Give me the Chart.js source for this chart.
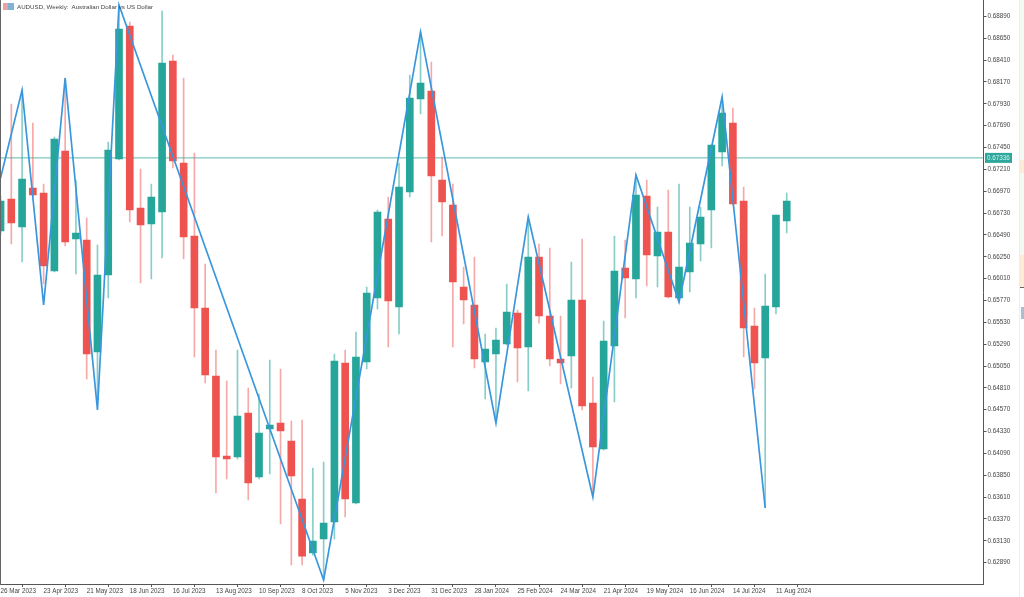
<!DOCTYPE html>
<html>
<head>
<meta charset="utf-8">
<title>AUDUSD Weekly</title>
<script src="https://cdn.jsdelivr.net/npm/chart.js@4/dist/chart.umd.min.js"></script>
<style>
  html, body { margin: 0; padding: 0; background: #fff; overflow: hidden; }
  #wrap { position: relative; width: 1024px; height: 597px; }
  #chart { position: absolute; left: 0; top: 0; }
  #title { position: absolute; left: 17px; top: 1.5px; font: 6.2px/9px "Liberation Sans", sans-serif; color: #444; white-space: pre; }
  #icon { position: absolute; left: 3px; top: 3px; width: 11px; height: 7px; background: linear-gradient(90deg, #e9a3a0 0 50%, #7fb2d6 50% 100%); }
  .edge { position: absolute; }
</style>
</head>
<body>
<div id="wrap">
  <canvas id="chart" width="1024" height="597"></canvas>
  <div id="icon"></div>
  <div id="title">AUDUSD, Weekly:  Australian Dollar vs US Dollar</div>
  <div class="edge" style="left:0;top:0;width:1px;height:585px;background:#666"></div>
  <div class="edge" style="left:1019px;top:0;width:1px;height:597px;background:#eee"></div>
  <div class="edge" style="left:1020px;top:0;width:4px;height:160px;background:#f3faf3"></div>
  <div class="edge" style="left:1020px;top:160px;width:4px;height:13px;background:#fcebd6"></div>
  <div class="edge" style="left:1020px;top:173px;width:4px;height:82px;background:#f3faf3"></div>
  <div class="edge" style="left:1020px;top:255px;width:4px;height:32px;background:#fcebd6"></div>
  <div class="edge" style="left:1020px;top:287px;width:4px;height:1px;background:#666"></div>
  <div class="edge" style="left:1021px;top:307px;width:3px;height:12px;background:#a9bfd4"></div>
</div>
<script>
// weekly candles, first one is the week of 26 Mar 2023
const opens = [
  0.66533, 0.66884, 0.66577, 0.67005, 0.66950, 0.66094, 0.67412, 0.66445, 0.66434, 0.65204,
  0.66050, 0.67324, 0.68784, 0.66786, 0.66610, 0.66742, 0.68400, 0.67280, 0.66478, 0.65687,
  0.64940, 0.64062, 0.64051, 0.64534, 0.63831, 0.64358, 0.64424, 0.64227, 0.63590, 0.62997,
  0.63150, 0.63337, 0.65083, 0.63546, 0.65094, 0.65797, 0.66665, 0.65698, 0.66961, 0.67983,
  0.68071, 0.67093, 0.66818, 0.65918, 0.65720, 0.65094, 0.65182, 0.65292, 0.65632, 0.65259,
  0.66247, 0.65599, 0.65127, 0.65160, 0.65775, 0.64644, 0.64139, 0.65270, 0.66127, 0.66006,
  0.66917, 0.66258, 0.66522, 0.65797, 0.66083, 0.66390, 0.66764, 0.67401, 0.67719, 0.66862,
  0.65490, 0.65138, 0.65698, 0.66643
];
const closes = [
  0.66862, 0.66621, 0.67104, 0.66928, 0.66149, 0.67543, 0.66412, 0.66511, 0.65182, 0.66050,
  0.67423, 0.68751, 0.66764, 0.66599, 0.66906, 0.68378, 0.67302, 0.66467, 0.65687, 0.64951,
  0.64051, 0.64029, 0.64501, 0.63765, 0.64314, 0.64402, 0.64336, 0.63842, 0.62963, 0.63128,
  0.63326, 0.65105, 0.63590, 0.65149, 0.65852, 0.66742, 0.65764, 0.67016, 0.67994, 0.68158,
  0.67137, 0.66851, 0.65973, 0.65775, 0.65127, 0.65237, 0.65336, 0.65643, 0.65248, 0.66247,
  0.65599, 0.65127, 0.65083, 0.65775, 0.64611, 0.64161, 0.65325, 0.66094, 0.66017, 0.66928,
  0.66269, 0.66522, 0.65808, 0.66138, 0.66401, 0.66687, 0.67477, 0.67829, 0.66829, 0.65468,
  0.65083, 0.65709, 0.66709, 0.66862
];
const highs = [
  0.66917, 0.67928, 0.68082, 0.67719, 0.67049, 0.67565, 0.68213, 0.67093, 0.66676, 0.66379,
  0.67510, 0.69015, 0.68828, 0.67214, 0.67049, 0.68949, 0.68466, 0.68213, 0.67390, 0.66170,
  0.65226, 0.64886, 0.65226, 0.64809, 0.64743, 0.65116, 0.65017, 0.64446, 0.64457, 0.63930,
  0.63996, 0.65182, 0.65226, 0.65424, 0.65918, 0.66764, 0.66906, 0.67280, 0.68246, 0.68719,
  0.68389, 0.67346, 0.67049, 0.66138, 0.66247, 0.65402, 0.65468, 0.65951, 0.65665, 0.66687,
  0.66390, 0.66346, 0.65599, 0.66192, 0.66445, 0.64929, 0.65544, 0.66478, 0.66434, 0.67148,
  0.67093, 0.66797, 0.66983, 0.67049, 0.66797, 0.66797, 0.67477, 0.68005, 0.67884, 0.67016,
  0.65687, 0.66061, 0.66709, 0.66950
];
const lows = [
  0.66489, 0.66390, 0.66192, 0.66906, 0.65951, 0.66083, 0.66368, 0.66061, 0.64907, 0.64677,
  0.65797, 0.67313, 0.66632, 0.65962, 0.66006, 0.66236, 0.67225, 0.66225, 0.65149, 0.64864,
  0.63655, 0.63809, 0.64029, 0.63579, 0.63809, 0.63864, 0.63315, 0.62865, 0.62865, 0.62974,
  0.62700, 0.63150, 0.63392, 0.63535, 0.65017, 0.65676, 0.65259, 0.65402, 0.66906, 0.67818,
  0.66412, 0.66478, 0.65259, 0.65512, 0.65028, 0.64688, 0.64457, 0.65281, 0.64875, 0.64776,
  0.65522, 0.65050, 0.64853, 0.64809, 0.64567, 0.63634, 0.64128, 0.64655, 0.65577, 0.65797,
  0.65929, 0.65918, 0.65797, 0.65742, 0.65863, 0.66203, 0.66346, 0.67247, 0.66818, 0.65149,
  0.64798, 0.63502, 0.65621, 0.66511
];

// zigzag indicator: turning points as week number / price
const zigzagWeeks = [0, 2, 4, 6, 9, 11, 30, 39, 46, 49, 55, 59, 63, 67, 71];
const zigzagPrices = [0.67115, 0.68082, 0.65720, 0.68213, 0.64567, 0.69015, 0.62700, 0.68719, 0.64424, 0.66687, 0.63612, 0.67148, 0.65753, 0.68005, 0.63491];

const currentPrice = 0.67336;

// one label every 4 weeks
const dateLabels = [
  '26 Mar 2023', '23 Apr 2023', '21 May 2023', '18 Jun 2023', '16 Jul 2023', '13 Aug 2023', '10 Sep 2023',
  '8 Oct 2023', '5 Nov 2023', '3 Dec 2023', '31 Dec 2023', '28 Jan 2024', '25 Feb 2024', '24 Mar 2024',
  '21 Apr 2024', '19 May 2024', '16 Jun 2024', '14 Jul 2024', '11 Aug 2024'
];
const priceTicks = [
  0.6889, 0.6865, 0.6841, 0.6817, 0.6793, 0.6769, 0.6745, 0.6721, 0.6697, 0.6673, 0.6649, 0.6625, 0.6601,
  0.6577, 0.6553, 0.6529, 0.6505, 0.6481, 0.6457, 0.6433, 0.6409, 0.6385, 0.6361, 0.6337, 0.6313, 0.6289
];

const UP = '#26a69a';
const DOWN = '#ef5350';
const UP_WICK = 'rgba(38,166,154,0.55)';
const DOWN_WICK = 'rgba(239,83,80,0.5)';
const AXIS = '#555';
const LABEL = '#444';
const TICK_FONT = { family: '"Liberation Sans", sans-serif', size: 6.3 };

const isUp = closes.map((c, i) => c >= opens[i]);

// price badge on the right axis
const priceBadge = {
  id: 'priceBadge',
  afterDraw(chart) {
    const { ctx, scales } = chart;
    const y = scales.y.getPixelForValue(currentPrice);
    ctx.save();
    ctx.fillStyle = '#2ea79c';
    ctx.fillRect(985, y - 5, 27, 10);
    ctx.fillStyle = '#d8f1ed';
    ctx.font = '6.3px "Liberation Sans", sans-serif';
    ctx.textBaseline = 'middle';
    ctx.fillText(currentPrice.toFixed(5), 987, y + 0.5);
    ctx.restore();
  },
};

new Chart(document.getElementById('chart'), {
  type: 'bar',
  plugins: [priceBadge],
  data: {
    datasets: [
      {
        type: 'line',
        data: [{ x: -0.05, y: currentPrice }, { x: 91.27, y: currentPrice }],
        borderColor: '#5fb8b0',
        borderWidth: 1,
        pointRadius: 0,
        order: 4,
      },
      {
        data: highs.map((h, i) => ({ x: i, y: [lows[i], h] })),
        backgroundColor: isUp.map(u => (u ? UP_WICK : DOWN_WICK)),
        barThickness: 1,
        grouped: false,
        order: 3,
      },
      {
        data: opens.map((o, i) => ({ x: i, y: [o, closes[i]] })),
        backgroundColor: isUp.map(u => (u ? UP : DOWN)),
        barThickness: 7,
        grouped: false,
        order: 2,
      },
      {
        type: 'line',
        data: zigzagWeeks.map((w, i) => ({ x: w, y: zigzagPrices[i] })),
        borderColor: '#3a97dd',
        borderWidth: 1.7,
        borderJoinStyle: 'miter',
        tension: 0,
        pointRadius: 0,
        order: 1,
      },
    ],
  },
  options: {
    responsive: false,
    animation: false,
    layout: { padding: 0 },
    plugins: { legend: { display: false }, tooltip: { enabled: false }, title: { display: false } },
    scales: {
      x: {
        type: 'linear',
        min: -0.05,
        max: 91.27,
        offset: false,
        afterBuildTicks(scale) {
          scale.ticks = dateLabels.map((_, i) => ({ value: i * 4 }));
        },
        afterFit(scale) {
          scale.height = 13;
          scale.paddingLeft = 0;
          scale.paddingRight = 0;
        },
        grid: { drawOnChartArea: false, color: AXIS, tickLength: 3 },
        border: { color: AXIS },
        ticks: {
          autoSkip: false,
          maxRotation: 0,
          align: 'start',
          padding: 0,
          color: LABEL,
          font: TICK_FONT,
          callback: value => dateLabels[value / 4],
        },
      },
      y: {
        position: 'right',
        min: 0.62656,
        max: 0.6907,
        afterBuildTicks(scale) {
          scale.ticks = priceTicks.map(value => ({ value }));
        },
        afterFit(scale) {
          scale.width = 40.5;
          scale.paddingTop = 0;
          scale.paddingBottom = 0;
        },
        grid: { drawOnChartArea: false, color: AXIS, tickLength: 3 },
        border: { color: AXIS },
        ticks: {
          autoSkip: false,
          padding: 1,
          color: LABEL,
          font: TICK_FONT,
          callback: value => value.toFixed(5),
        },
      },
    },
  },
});
</script>
</body>
</html>
